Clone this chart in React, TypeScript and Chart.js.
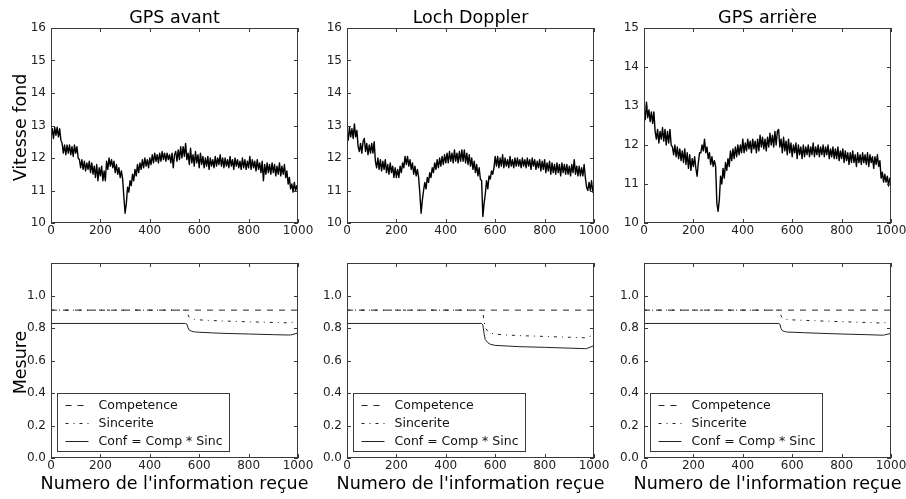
import React, { useEffect, useRef } from 'react';
import { Chart, registerables } from 'chart.js';

Chart.register(...registerables);

// ---------- DATA ----------
const SAMPLE_STEP = 5; // one value every 5 received informations (0..1000)

const gpsAvant = [
  12.7, 12.9, 12.6, 12.95, 12.7, 12.95, 12.65, 12.9, 12.55, 12.45,
  12.15, 12.4, 12.1, 12.4, 12.15, 12.4, 12.1, 12.35, 12.05, 12.4,
  12.15, 12.35, 12.0, 11.95, 11.7, 11.95, 11.65, 11.9, 11.6, 11.85,
  11.65, 11.9, 11.55, 11.85, 11.5, 11.75, 11.4, 11.8, 11.3, 11.7,
  11.45, 11.75, 11.3, 11.6, 11.3, 11.9, 11.65, 12.0, 11.75, 11.95,
  11.7, 11.9, 11.55, 11.8, 11.5, 11.7, 11.4, 11.6, 11.35, 10.8,
  10.3, 10.6, 11.1, 10.95, 11.3, 11.15, 11.5, 11.3, 11.65, 11.45,
  11.8, 11.55, 11.85, 11.65, 11.95, 11.7, 12.0, 11.75, 11.95, 11.7,
  12.0, 11.8, 12.1, 11.85, 12.15, 11.9, 12.1, 11.85, 12.15, 11.9,
  12.2, 11.95, 12.15, 11.9, 12.15, 11.95, 12.1, 11.85, 12.15, 11.7,
  12.1, 12.2, 11.9, 12.25, 11.95, 12.35, 12.0, 12.35, 12.05, 12.45,
  11.95, 12.15, 11.8, 12.3, 11.85, 12.1, 11.75, 12.2, 11.85, 12.1,
  11.7, 12.15, 11.8, 12.05, 11.7, 12.0, 11.75, 12.05, 11.65, 12.0,
  11.75, 11.95, 11.7, 12.05, 11.75, 12.0, 11.8, 12.1, 11.75, 12.0,
  11.7, 12.0, 11.75, 11.95, 11.7, 12.05, 11.75, 11.95, 11.65, 12.0,
  11.75, 11.95, 11.7, 11.9, 11.65, 12.0, 11.7, 11.95, 11.65, 11.9,
  11.7, 12.05, 11.65, 11.95, 11.7, 11.9, 11.6, 11.95, 11.65, 11.85,
  11.55, 11.9, 11.3, 11.8, 11.5, 11.85, 11.55, 11.8, 11.5, 11.85,
  11.55, 11.8, 11.45, 11.75, 11.5, 11.85, 11.45, 11.75, 11.5, 11.8,
  11.4, 11.6, 11.2, 11.4, 11.05, 11.2, 10.95, 11.25, 11.0, 11.15,
  10.95,
];

const lochDoppler = [
  12.8, 12.55, 12.95, 12.65, 12.9, 12.6, 13.05, 12.65, 12.85, 12.35,
  12.2, 12.45, 12.15, 12.5, 12.6, 12.2, 12.45, 12.1, 12.4, 12.15,
  12.45, 12.15, 12.5, 11.9, 11.7, 12.0, 11.65, 11.95, 11.6, 11.9,
  11.65, 11.95, 11.55, 11.8, 11.5, 11.85, 11.55, 11.75, 11.4, 11.7,
  11.4, 11.65, 11.4, 11.75, 11.55, 11.85, 11.7, 12.05, 11.8, 12.05,
  11.75, 11.95, 11.65, 11.85, 11.5, 11.75, 11.45, 11.65, 11.4, 10.9,
  10.3, 10.7, 11.0, 11.25, 11.05, 11.4, 11.25, 11.55, 11.4, 11.7,
  11.55, 11.85, 11.65, 11.95, 11.7, 12.0, 11.75, 12.05, 11.8, 12.1,
  11.85, 12.15, 11.85, 12.2, 11.9, 12.15, 11.85, 12.25, 11.9, 12.15,
  11.85, 12.2, 11.9, 12.25, 11.9, 12.25, 11.85, 12.15, 11.8, 12.1,
  11.75, 12.0, 11.65, 11.9, 11.55, 11.8, 11.45, 11.7, 11.35, 11.3,
  10.2, 10.6, 10.9, 11.3, 11.05, 11.45, 11.35, 11.6, 11.5, 11.7,
  12.05, 11.75, 12.05, 11.7, 12.0, 11.75, 12.1, 11.7, 12.0, 11.75,
  11.95, 11.7, 12.05, 11.75, 11.95, 11.7, 12.0, 11.75, 12.0, 11.75,
  11.95, 11.7, 12.0, 11.75, 11.95, 11.7, 12.0, 11.75, 11.95, 11.65,
  12.0, 11.75, 11.95, 11.65, 11.9, 11.7, 11.95, 11.6, 11.9, 11.65,
  11.95, 11.55, 11.85, 11.6, 11.9, 11.5, 11.85, 11.55, 11.8, 11.5,
  11.85, 11.55, 11.8, 11.45, 11.85, 11.55, 11.8, 11.5, 11.8, 11.5,
  11.75, 11.45, 11.8, 11.55, 11.95, 11.5, 11.75, 11.45, 11.75, 11.45,
  11.7, 11.45, 11.8, 11.4, 11.1, 11.0, 11.25, 11.0, 11.3, 10.95,
  11.05,
];

const gpsArriere = [
  12.75, 12.65, 13.1, 12.7, 12.9, 12.6, 12.85, 12.55, 12.85, 12.35,
  12.15, 12.4, 12.05, 12.35, 12.15, 12.45, 12.1, 12.4, 12.0, 12.35,
  12.05, 12.4, 12.0, 11.95, 11.75, 12.0, 11.7, 11.95, 11.65, 11.9,
  11.6, 11.85, 11.55, 11.9, 11.5, 11.8, 11.4, 11.75, 11.35, 11.65,
  11.45, 11.7, 11.4, 11.2, 11.55, 11.8, 11.8, 12.0, 11.85, 12.15,
  11.8, 11.95, 11.65, 11.8, 11.5, 11.7, 11.45, 11.6, 11.45, 10.5,
  10.3, 10.6, 11.2, 11.0, 11.4, 11.15, 11.55, 11.35, 11.65, 11.45,
  11.85, 11.6, 11.9, 11.65, 11.95, 11.7, 12.0, 11.75, 12.0, 11.8,
  12.15, 11.8, 12.05, 11.85, 12.15, 11.9, 12.1, 11.8, 12.15, 11.9,
  12.1, 11.8, 12.15, 11.85, 12.25, 11.95, 12.2, 11.9, 12.15, 11.85,
  12.2, 11.95, 12.3, 12.0, 12.25, 11.95, 12.35, 12.0, 12.35, 12.4,
  11.95, 12.15, 11.8, 12.2, 11.85, 12.1, 11.75, 12.15, 11.8, 12.05,
  11.7, 12.0, 11.8, 12.05, 11.65, 12.0, 11.75, 11.95, 11.65, 12.0,
  11.7, 11.95, 11.75, 12.0, 11.7, 11.95, 11.75, 12.05, 11.7, 11.95,
  11.75, 12.0, 11.7, 11.95, 11.75, 12.0, 11.7, 11.95, 11.75, 12.0,
  11.65, 11.9, 11.7, 11.95, 11.65, 11.9, 11.65, 11.95, 11.6, 11.85,
  11.65, 11.9, 11.55, 11.85, 11.6, 11.8, 11.5, 11.8, 11.55, 11.85,
  11.55, 11.75, 11.45, 11.8, 11.55, 11.75, 11.5, 11.8, 11.55, 11.75,
  11.5, 11.8, 11.45, 11.75, 11.55, 11.7, 11.4, 11.7, 11.5, 11.75,
  11.45, 11.6, 11.15, 11.3, 11.05, 11.25, 11.05, 11.2, 10.95, 11.15,
  11.05,
];

const measureX = [0, 545, 550, 555, 560, 570, 580, 600, 650, 700, 800, 900, 960, 970, 1000];
const competence = [0.91, 0.91, 0.91, 0.91, 0.91, 0.91, 0.91, 0.91, 0.91, 0.91, 0.91, 0.91, 0.91, 0.91, 0.91];

const sincGpsAvant = [0.91, 0.91, 0.905, 0.88, 0.865, 0.857, 0.853, 0.85, 0.846, 0.843, 0.838, 0.834, 0.832, 0.832, 0.845];
const confGpsAvant = [0.828, 0.828, 0.824, 0.8, 0.787, 0.78, 0.776, 0.774, 0.77, 0.767, 0.763, 0.759, 0.757, 0.757, 0.769];

const sincLoch = [0.91, 0.91, 0.9, 0.84, 0.8, 0.78, 0.77, 0.762, 0.757, 0.753, 0.748, 0.743, 0.74, 0.74, 0.76];
const confLoch = [0.828, 0.828, 0.819, 0.764, 0.728, 0.71, 0.7, 0.693, 0.689, 0.685, 0.681, 0.676, 0.673, 0.673, 0.692];

const sincGpsArriere = [0.91, 0.91, 0.905, 0.875, 0.862, 0.855, 0.852, 0.85, 0.847, 0.844, 0.839, 0.834, 0.831, 0.831, 0.843];
const confGpsArriere = [0.828, 0.828, 0.824, 0.796, 0.784, 0.778, 0.775, 0.774, 0.771, 0.768, 0.763, 0.759, 0.756, 0.756, 0.767];

const titles = ['GPS avant', 'Loch Doppler', 'GPS arrière'];
const speedSeries = [gpsAvant, lochDoppler, gpsArriere];
const speedMin = [10, 10, 10];
const speedMax = [16, 16, 15];
const sincSeries = [sincGpsAvant, sincLoch, sincGpsArriere];
const confSeries = [confGpsAvant, confLoch, confGpsArriere];
const legendLabels = ['Competence', 'Sincerite', 'Conf = Comp * Sinc'];
const yLabelTop = 'Vitesse fond';
const yLabelBottom = 'Mesure';
const xLabel = "Numero de l'information reçue";

// ---------- LAYOUT ----------
const COL_LEFT = [51, 347, 644];
const ROW_TOP = [28, 263];
const PLOT_W = 247;
const PLOT_H = 195;
const Y_W = 51;
const X_H = 41;
const PAD_T = 28;
const PAD_R = 18;
const FONT = '"DejaVu Sans", sans-serif';
const FRAME = '#3a3a3a';

const DASH_COMP = [6, 6];
const DASH_SINC = [3, 5, 1, 5];

function Panel({ row, col }: { row: number; col: number }) {
  const ref = useRef<HTMLCanvasElement | null>(null);
  const cw = Y_W + PLOT_W + PAD_R;
  const ch = PAD_T + PLOT_H + X_H;
  const left = COL_LEFT[col] - Y_W;
  const top = ROW_TOP[row] - PAD_T;

  useEffect(() => {
    const canvas = ref.current;
    if (!canvas) return;

    let datasets: any[];
    if (row === 0) {
      datasets = [
        {
          data: speedSeries[col].map((v, i) => ({ x: i * SAMPLE_STEP, y: v })),
          borderColor: '#000',
          borderWidth: 1.4,
          pointRadius: 0,
          tension: 0,
        },
      ];
    } else {
      datasets = [
        {
          data: measureX.map((x, i) => ({ x, y: competence[i] })),
          borderColor: '#222',
          borderWidth: 1,
          borderDash: DASH_COMP,
          pointRadius: 0,
          tension: 0,
        },
        {
          data: measureX.map((x, i) => ({ x, y: sincSeries[col][i] })),
          borderColor: '#222',
          borderWidth: 1,
          borderDash: DASH_SINC,
          pointRadius: 0,
          tension: 0,
        },
        {
          data: measureX.map((x, i) => ({ x, y: confSeries[col][i] })),
          borderColor: '#222',
          borderWidth: 1,
          pointRadius: 0,
          tension: 0,
        },
      ];
    }

    const decor = {
      id: 'decor',
      afterDatasetsDraw(chart: any) {
        const ctx = chart.ctx;
        const ca = chart.chartArea;
        ctx.save();
        ctx.strokeStyle = FRAME;
        ctx.lineWidth = 1;
        ctx.setLineDash([]);
        const xs = chart.scales.x;
        const ys = chart.scales.y;
        ctx.beginPath();
        xs.ticks.forEach((t: any) => {
          const px = Math.round(xs.getPixelForValue(t.value)) + 0.5;
          ctx.moveTo(px, ca.bottom);
          ctx.lineTo(px, ca.bottom - 4);
          ctx.moveTo(px, ca.top);
          ctx.lineTo(px, ca.top + 4);
        });
        ys.ticks.forEach((t: any) => {
          const py = Math.round(ys.getPixelForValue(t.value)) + 0.5;
          ctx.moveTo(ca.left, py);
          ctx.lineTo(ca.left + 4, py);
          ctx.moveTo(ca.right, py);
          ctx.lineTo(ca.right - 4, py);
        });
        ctx.stroke();
        ctx.strokeRect(ca.left + 0.5, ca.top + 0.5, ca.right - ca.left - 1, ca.bottom - ca.top - 1);

        if (row === 1) {
          const bw = 172;
          const bh = 58;
          const bx = Math.round(ca.left + 6) + 0.5;
          const by = Math.round(ca.bottom - 7 - bh) + 0.5;
          ctx.fillStyle = '#fff';
          ctx.fillRect(bx, by, bw, bh);
          ctx.strokeStyle = FRAME;
          ctx.strokeRect(bx, by, bw, bh);
          const dashes = [DASH_COMP, DASH_SINC, []];
          ctx.font = `12.5px ${FONT}`;
          ctx.textBaseline = 'middle';
          ctx.textAlign = 'left';
          legendLabels.forEach((lab, i) => {
            const cy = Math.round(by + 11 + i * 18) + 0.5;
            ctx.strokeStyle = '#222';
            ctx.setLineDash(dashes[i]);
            ctx.beginPath();
            ctx.moveTo(bx + 8, cy);
            ctx.lineTo(bx + 31, cy);
            ctx.stroke();
            ctx.setLineDash([]);
            ctx.fillStyle = '#111';
            ctx.fillText(lab, bx + 41, cy + 0.5);
          });
        }
        ctx.restore();
      },
      afterDraw(chart: any) {
        const ctx = chart.ctx;
        const ca = chart.chartArea;
        const cx = (ca.left + ca.right) / 2;
        ctx.save();
        ctx.fillStyle = '#000';
        ctx.font = `17.5px ${FONT}`;
        ctx.textAlign = 'center';
        ctx.textBaseline = 'alphabetic';
        if (row === 0) {
          ctx.fillText(titles[col], cx, ca.top - 5);
        } else {
          ctx.fillText(xLabel, cx, ca.bottom + 31);
        }
        if (col === 0) {
          ctx.translate(26, (ca.top + ca.bottom) / 2 + 2);
          ctx.rotate(-Math.PI / 2);
          ctx.fillText(row === 0 ? yLabelTop : yLabelBottom, 0, 0);
        }
        ctx.restore();
      },
    };

    const tickFont = { family: FONT, size: 12 };
    const chart = new Chart(canvas, {
      type: 'line',
      data: { datasets },
      options: {
        responsive: false,
        animation: false,
        layout: { padding: { top: PAD_T, right: PAD_R, left: 0, bottom: 0 } },
        plugins: {
          legend: { display: false },
          title: { display: false },
          tooltip: { enabled: false },
        },
        elements: { point: { radius: 0 }, line: { borderJoinStyle: 'round' } },
        scales: {
          x: {
            type: 'linear',
            min: 0,
            max: 1000,
            grid: { display: false, drawTicks: false },
            border: { display: false },
            ticks: {
              stepSize: 200,
              font: tickFont,
              color: '#222',
              padding: 1,
              maxRotation: 0,
              autoSkip: false,
              callback: (v: any) => String(Math.round(Number(v))),
            },
            afterFit: (s: any) => {
              s.height = X_H;
            },
          },
          y: {
            type: 'linear',
            min: row === 0 ? speedMin[col] : 0,
            max: row === 0 ? speedMax[col] : 1.2,
            grid: { display: false, drawTicks: false },
            border: { display: false },
            ticks: {
              stepSize: row === 0 ? 1 : 0.2,
              font: tickFont,
              color: '#222',
              padding: 5,
              autoSkip: false,
              callback: (v: any) => {
                const n = Number(v);
                if (row === 0) return String(Math.round(n));
                return n > 1.1 ? '' : n.toFixed(1);
              },
            },
            afterFit: (s: any) => {
              s.width = Y_W;
            },
          },
        },
      },
      plugins: [decor],
    } as any);
    return () => chart.destroy();
  }, [row, col]);

  return (
    <canvas
      ref={ref}
      width={cw}
      height={ch}
      style={{ position: 'absolute', left, top, width: cw, height: ch }}
    />
  );
}

export default function App() {
  const panels = [];
  for (let r = 0; r < 2; r++) {
    for (let c = 0; c < 3; c++) {
      panels.push(<Panel key={`${r}-${c}`} row={r} col={c} />);
    }
  }
  return (
    <div
      style={{
        position: 'absolute',
        left: 0,
        top: 0,
        width: 906,
        height: 499,
        overflow: 'hidden',
        background: '#fff',
      }}
    >
      {panels}
    </div>
  );
}
